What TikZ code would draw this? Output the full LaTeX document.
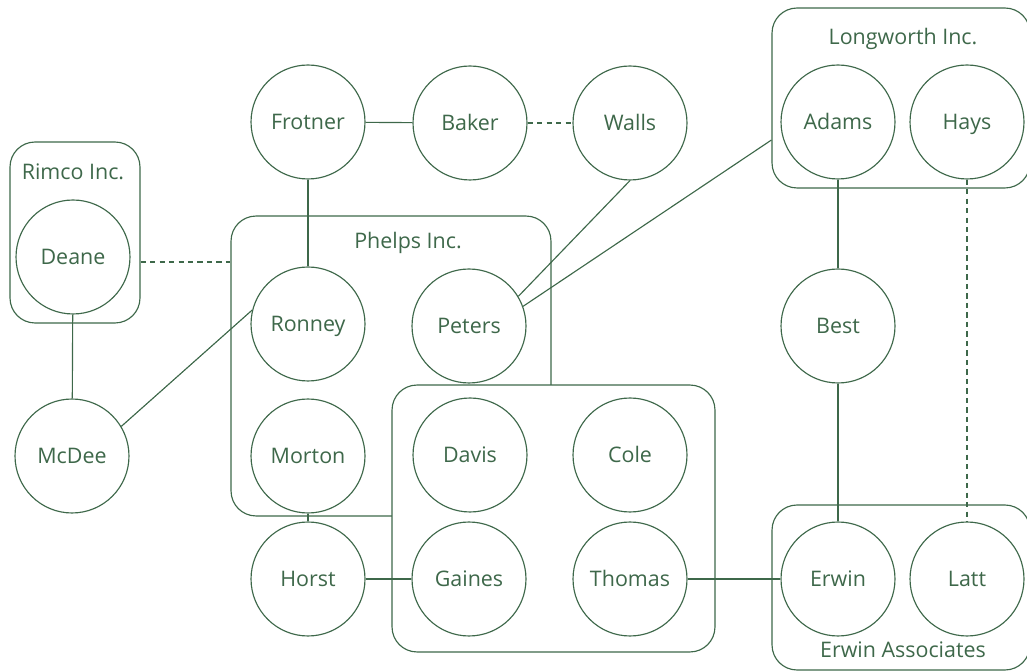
\documentclass[tikz,border=0pt]{standalone}
\usepackage{fontspec}
\setmainfont{Open Sans}
\definecolor{leaf}{RGB}{62,104,74}

\begin{document}
\begin{tikzpicture}[x=0.02cm, y=-0.02cm, line width=0.65pt, draw=leaf,
    person/.style={circle, draw=leaf, fill=white, inner sep=0pt, minimum size=2.28cm, text=leaf, text height=1.5ex, text depth=0pt, font=\fontsize{12.2}{14}\selectfont},
    firm/.style={draw=leaf, rounded corners=0.5cm, inner sep=0pt},
    label/.style={text=leaf, text height=1.5ex, text depth=0pt, font=\fontsize{12.2}{14}\selectfont},
    weak/.style={dash pattern=on 3pt off 2.4pt}]
    \useasboundingbox (0,0) rectangle (1027,671);

    % Company boxes (the white one covers part of Phelps)
    \node[firm, minimum width=2.6cm, minimum height=3.62cm] (rimco) at (75,232.5) {};
    \node[firm, minimum width=6.4cm, minimum height=6cm] (phelps) at (391,366) {};
    \node[firm, fill=white, minimum width=6.46cm, minimum height=5.34cm] (group) at (553.5,518.5) {};
    \node[firm, minimum width=5.16cm, minimum height=3.6cm] (longworth) at (901,98) {};
    \node[firm, minimum width=5.16cm, minimum height=3.3cm] (assoc) at (901,587.5) {};

    \node[label] (rimconame) at (73,172) {Rimco Inc.};
    \node[label] (phelpsname) at (408,241) {Phelps Inc.};
    \node[label] (longname) at (903,37) {Longworth Inc.};
    \node[label] (assocname) at (903,650) {Erwin Associates};

    % People
    \node[person] (frotner) at (308,122) {Frotner};
    \node[person] (baker) at (470,123) {Baker};
    \node[person] (walls) at (630,123) {Walls};
    \node[person] (adams) at (838,122) {Adams};
    \node[person] (hays) at (967,122) {Hays};
    \node[person] (deane) at (73,257) {Deane};
    \node[person] (ronney) at (308,324) {Ronney};
    \node[person] (peters) at (469,326) {Peters};
    \node[person] (best) at (838,326) {Best};
    \node[person] (mcdee) at (72,456) {McDee};
    \node[person] (morton) at (308,456) {Morton};
    \node[person] (davis) at (470,455) {Davis};
    \node[person] (cole) at (630,455) {Cole};
    \node[person] (horst) at (308,579) {Horst};
    \node[person] (gaines) at (469,579) {Gaines};
    \node[person] (thomas) at (630,579) {Thomas};
    \node[person] (erwin) at (838,579) {Erwin};
    \node[person] (latt) at (967,579) {Latt};

    \coordinate (deanelink) at (0,262);
    \coordinate (longlink) at (0,140);

    % Ties
    \draw (frotner) -- (baker);
    \draw[weak] (baker) -- (walls);
    \draw (frotner) -- (ronney);
    \draw (walls.south) -- (peters.31);
    \draw (peters.20) -- (longworth.west |- longlink);
    \draw[weak] (rimco.east |- deanelink) -- (phelps.west |- deanelink);
    \draw (deane) -- (mcdee);
    \draw (mcdee.31) -- (ronney.166);
    \draw (morton) -- (horst);
    \draw (horst) -- (gaines);
    \draw (thomas) -- (erwin);
    \draw (adams) -- (best);
    \draw (best) -- (erwin);
    \draw[weak] (hays) -- (latt);
\end{tikzpicture}
\end{document}
